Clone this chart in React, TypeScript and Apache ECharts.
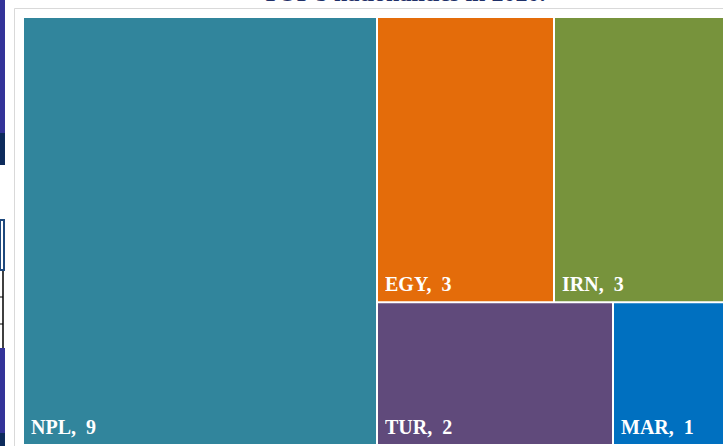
import React, { useEffect, useRef } from "react";
import * as echarts from "echarts";

const categories = ["NPL", "EGY", "IRN", "TUR", "MAR"];
const values = [9, 3, 3, 2, 1];
const colors = ["#31859C", "#E46C0A", "#77933C", "#604A7B", "#0070C0"];
const titleText = "TOP 5 nationalities in 2020.";

export default function App() {
  const ref = useRef<HTMLDivElement>(null);
  useEffect(() => {
    if (!ref.current) return;
    const chart = echarts.init(ref.current, undefined, { renderer: "svg" });
    const data = categories.map((name, i) => ({
      name,
      value: values[i],
      itemStyle: { color: colors[i] },
    }));
    chart.setOption({
      animation: false,
      backgroundColor: "#ffffff",
      graphic: [
        {
          type: "rect",
          shape: { x: 14.5, y: 8.5, width: 800, height: 500 },
          style: { fill: "none", stroke: "#D9D9D9", lineWidth: 1 },
          silent: true,
        },
        {
          type: "text",
          x: 404,
          y: 5,
          style: {
            text: titleText,
            fill: "#1F3068",
            font: "bold 24px 'Liberation Serif'",
            textAlign: "center",
            textVerticalAlign: "bottom",
          },
          silent: true,
        },
        { type: "rect", shape: { x: 0, y: 0, width: 5, height: 133 }, style: { fill: "#333399" }, silent: true },
        { type: "rect", shape: { x: 0, y: 133, width: 5, height: 32 }, style: { fill: "#0D2B5C" }, silent: true },
        { type: "rect", shape: { x: 0, y: 220, width: 4, height: 50 }, style: { fill: "#ffffff", stroke: "#1F497D", lineWidth: 2 }, silent: true },
        { type: "line", shape: { x1: 3, y1: 271, x2: 3, y2: 348 }, style: { stroke: "#000000", lineWidth: 1.5 }, silent: true },
        { type: "line", shape: { x1: 0, y1: 297, x2: 3, y2: 297 }, style: { stroke: "#000000", lineWidth: 1 }, silent: true },
        { type: "line", shape: { x1: 0, y1: 324, x2: 3, y2: 324 }, style: { stroke: "#000000", lineWidth: 1 }, silent: true },
        { type: "rect", shape: { x: 0, y: 348, width: 5, height: 85 }, style: { fill: "#333399" }, silent: true },
        { type: "rect", shape: { x: 0, y: 433, width: 5, height: 13 }, style: { fill: "#0D2B5C" }, silent: true },
      ],
      series: [
        {
          type: "treemap",
          left: 24,
          top: 18,
          width: 706,
          height: 426,
          roam: false,
          nodeClick: false,
          breadcrumb: { show: false },
          sort: false,
          itemStyle: { borderWidth: 0, gapWidth: 2, borderColor: "#ffffff" },
          levels: [{ itemStyle: { borderWidth: 0, gapWidth: 2 } }],
          label: {
            show: true,
            position: "insideBottomLeft",
            distance: 0,
            offset: [2, -2],
            formatter: "{b},  {c}",
            color: "#ffffff",
            fontFamily: "'Liberation Serif', serif",
            fontWeight: "bold",
            fontSize: 20,
          },
          emphasis: { disabled: true },
          data,
        },
      ],
    });
    return () => chart.dispose();
  }, []);
  return (
    <div
      ref={ref}
      style={{ position: "absolute", left: 0, top: 0, width: 723, height: 446 }}
    />
  );
}
